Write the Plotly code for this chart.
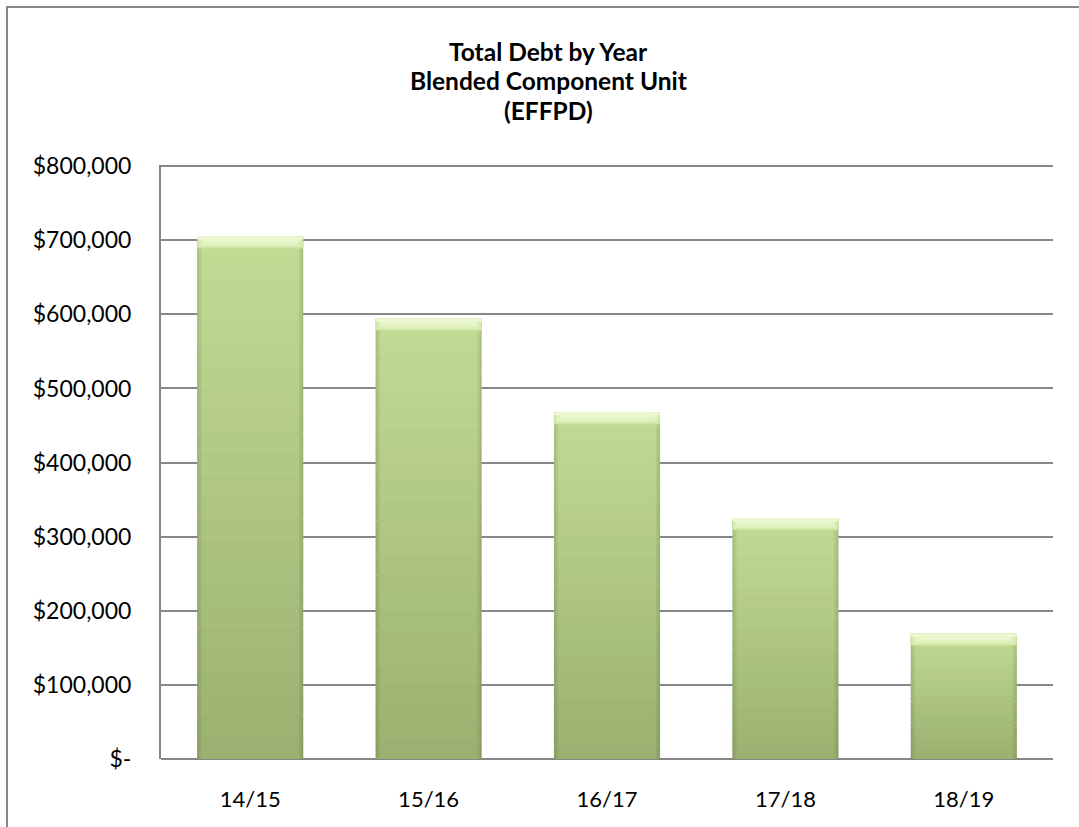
import plotly.graph_objects as go

# Fiscal years and outstanding debt
years = ["14/15", "15/16", "16/17", "17/18", "18/19"]
debt = [705000, 594000, 468000, 325000, 169000]

tick_vals = [0, 100000, 200000, 300000, 400000, 500000, 600000, 700000, 800000]
tick_text = ["$-", "$100,000", "$200,000", "$300,000", "$400,000",
             "$500,000", "$600,000", "$700,000", "$800,000"]

title_lines = ["Total Debt by Year", "Blended Component Unit", "(EFFPD)"]

W, H = 1079, 827
L, R, T, B = 161, 26, 165, 68
plot_w = W - L - R
plot_h = H - T - B
Y_MAX = 801500  # a hair above the last gridline so it is drawn


def lerp(c1, c2, t):
    a = [int(c1[i:i + 2], 16) for i in (1, 3, 5)]
    b = [int(c2[i:i + 2], 16) for i in (1, 3, 5)]
    return "#" + "".join(f"{round(a[i] + (b[i] - a[i]) * t):02x}" for i in range(3))


fig = go.Figure()

# Bars are built from stacked slices so each bar shades from light top to dark bottom,
# with a darker rim along the sides and a light bevel band at the top.
N = 24
layers = [
    (0.595, "#869a5f", "#a6c07f"),  # outer rim
    (0.578, "#90a567", "#b3cd89"),  # inner rim
    (0.548, "#9ab070", "#c2dc94"),  # face
]
for width, bottom_c, top_c in layers:
    for k in range(N):
        frac = k / N
        fig.add_trace(go.Bar(
            x=years,
            y=[v / N for v in debt],
            base=[v * frac for v in debt],
            width=width,
            marker=dict(color=lerp(bottom_c, top_c, (k + 0.5) / N), line=dict(width=0)),
            hoverinfo="skip",
            showlegend=False,
        ))

# bevel highlight at the top of every bar, narrowing downward like a chamfer
px_val = Y_MAX / plot_h
bevel = [
    (0.595, 12, "#c9e29e"),
    (0.585, 11, "#d3e9ab"),
    (0.570, 10, "#dcefb8"),
    (0.550, 8, "#e3f3c3"),
    (0.530, 6, "#e8f6cb"),
    (0.595, 3, "#edf8d3"),
]
for width, h_px, col in bevel:
    hv = h_px * px_val
    fig.add_trace(go.Bar(
        x=years,
        y=[hv for _ in debt],
        base=[v - hv for v in debt],
        width=width,
        marker=dict(color=col, line=dict(width=0)),
        hoverinfo="skip",
        showlegend=False,
    ))

# chart frame
fig.add_shape(
    type="rect", xref="paper", yref="paper",
    x0=(7 - L) / plot_w, x1=(W + 10 - L) / plot_w,
    y0=(H - B - (H + 10)) / plot_h, y1=(H - B - 7) / plot_h,
    line=dict(color="#878787", width=2), fillcolor="rgba(0,0,0,0)", layer="below",
)

# three-line bold heading, one annotation per line for tighter leading
for i, line in enumerate(title_lines):
    py = 52 + 29 * i
    fig.add_annotation(
        text=f"<b>{line}</b>",
        xref="paper", yref="paper",
        x=(548 - L) / plot_w, y=(H - B - py) / plot_h,
        xanchor="center", yanchor="middle",
        showarrow=False,
        font=dict(family="Lato, sans-serif", size=24.5, color="#000000"),
    )

fig.update_layout(
    width=W, height=H,
    margin=dict(l=L, r=R, t=T, b=B),
    paper_bgcolor="white",
    plot_bgcolor="white",
    barmode="overlay",
    bargap=0.4,
    font=dict(family="Lato, sans-serif", color="#000000"),
    xaxis=dict(
        showgrid=False,
        showline=False,
        ticks="",
        tickfont=dict(family="Lato, sans-serif", size=22, color="#000000"),
        ticklabelstandoff=25,
    ),
    yaxis=dict(
        range=[0, Y_MAX],
        tickvals=tick_vals,
        ticktext=tick_text,
        showgrid=True,
        gridcolor="#878787",
        gridwidth=2,
        showline=True,
        linecolor="#878787",
        linewidth=2,
        zeroline=True,
        zerolinecolor="#878787",
        zerolinewidth=2,
        ticks="",
        tickfont=dict(family="Lato, sans-serif", size=23, color="#000000"),
        ticklabelstandoff=23,
    ),
)

fig.write_html("out.html")
